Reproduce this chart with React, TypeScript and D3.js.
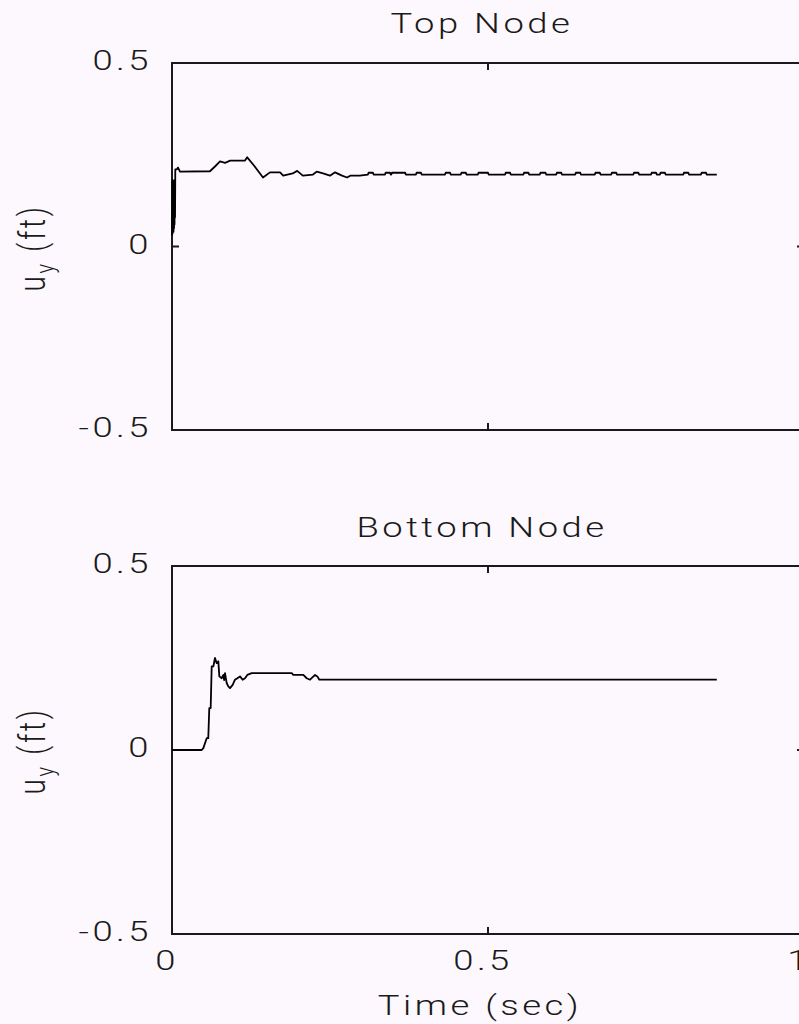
import React from "react";
import * as d3 from "d3";

// Vertical displacement histories (time in seconds, u_y in feet)
const topTime = [
  0, 0.0004, 0.0008, 0.0012, 0.0016, 0.002, 0.0024, 0.0028, 0.0032, 0.0036, 0.004,
  0.0044, 0.0048, 0.0052, 0.0075, 0.0095, 0.0127,
  0.06, 0.068, 0.076, 0.084, 0.092, 0.1155, 0.119, 0.13, 0.144, 0.155, 0.171, 0.176,
  0.191, 0.198, 0.207, 0.223, 0.229, 0.239, 0.25, 0.258, 0.269, 0.277, 0.282, 0.297,
  0.31, 0.311, 0.318, 0.319,
  0.337, 0.338, 0.345, 0.346,
  0.347, 0.348, 0.369, 0.37,
  0.386, 0.387, 0.394, 0.395,
  0.432, 0.433, 0.44, 0.441,
  0.457, 0.458, 0.465, 0.466,
  0.484, 0.485, 0.5, 0.501,
  0.527, 0.528, 0.535, 0.536,
  0.556, 0.557, 0.564, 0.565,
  0.582, 0.583, 0.591, 0.592,
  0.608, 0.609, 0.616, 0.617,
  0.638, 0.639, 0.646, 0.647,
  0.669, 0.67, 0.677, 0.678,
  0.695, 0.696, 0.703, 0.704,
  0.73, 0.731, 0.738, 0.739,
  0.758, 0.759, 0.766, 0.767,
  0.772, 0.773, 0.78, 0.781,
  0.809, 0.81, 0.817, 0.818,
  0.837, 0.838, 0.845, 0.846,
  0.862,
];
const topDisp = [
  0.03, 0.18, 0.035, 0.175, 0.04, 0.18, 0.04, 0.175, 0.05, 0.18, 0.06,
  0.175, 0.08, 0.21, 0.21, 0.215, 0.204,
  0.205, 0.218, 0.232, 0.228, 0.234, 0.234, 0.243, 0.22, 0.188, 0.202, 0.202, 0.193,
  0.199, 0.206, 0.193, 0.196, 0.204, 0.199, 0.193, 0.202, 0.193, 0.188, 0.193, 0.193,
  0.196, 0.201, 0.201, 0.196,
  0.196, 0.201, 0.201, 0.196,
  0.196, 0.201, 0.201, 0.196,
  0.196, 0.201, 0.201, 0.196,
  0.196, 0.201, 0.201, 0.196,
  0.196, 0.201, 0.201, 0.196,
  0.196, 0.201, 0.201, 0.196,
  0.196, 0.201, 0.201, 0.196,
  0.196, 0.201, 0.201, 0.196,
  0.196, 0.201, 0.201, 0.196,
  0.196, 0.201, 0.201, 0.196,
  0.196, 0.201, 0.201, 0.196,
  0.196, 0.201, 0.201, 0.196,
  0.196, 0.201, 0.201, 0.196,
  0.196, 0.201, 0.201, 0.196,
  0.196, 0.201, 0.201, 0.196,
  0.196, 0.201, 0.201, 0.196,
  0.196, 0.201, 0.201, 0.196,
  0.196, 0.201, 0.201, 0.196,
  0.196,
];

const bottomTime = [
  0, 0.047, 0.0496, 0.0549, 0.0574, 0.059, 0.0612, 0.0628, 0.0654, 0.068, 0.0707,
  0.0733, 0.0749, 0.0786, 0.0812, 0.0825, 0.0839, 0.0865, 0.0891, 0.0918, 0.096, 0.0997,
  0.1034, 0.1076, 0.1118, 0.1155, 0.1192, 0.1261, 0.134, 0.1894, 0.192, 0.2078,
  0.2131, 0.2184, 0.2226, 0.2263, 0.23, 0.2331, 0.862,
];
const bottomDisp = [
  0, 0, 0.005, 0.032, 0.032, 0.114, 0.114, 0.227, 0.227, 0.25, 0.236,
  0.241, 0.2, 0.195, 0.204, 0.19, 0.209, 0.182, 0.173, 0.168, 0.177, 0.191,
  0.195, 0.2, 0.191, 0.195, 0.204, 0.209, 0.209, 0.209, 0.204, 0.204,
  0.195, 0.191, 0.198, 0.204, 0.2, 0.191, 0.191,
];

const xTicks = [0, 0.5, 1];
const xTickLabels = ["0", "0.5", "1"];
const yTicks = [-0.5, 0, 0.5];
const yTickLabels = ["-0.5", "0", "0.5"];
const panelTitles = ["Top Node", "Bottom Node"];
const xAxisTitle = "Time (sec)";

const W = 799;
const H = 1024;
const FONT = "Roboto, 'Liberation Sans', Arial, sans-serif";
const INK = "#1a1a1a";
const SX = 1.3; // horizontal stretch of the lettering
const LS = 2.7;

const x = d3.scaleLinear().domain([0, 1]).range([172, 804]);

const panels = [
  { title: panelTitles[0], y: d3.scaleLinear().domain([-0.5, 0.5]).range([430, 63]), t: topTime, u: topDisp, titleY: 33, labelCy: 248 },
  { title: panelTitles[1], y: d3.scaleLinear().domain([-0.5, 0.5]).range([934, 566]), t: bottomTime, u: bottomDisp, titleY: 537, labelCy: 751 },
];

function Txt({ x, y, anchor = "middle", children, size = 28, rotate = 0 }: any) {
  return (
    <text
      transform={`translate(${x},${y}) scale(${SX},1)${rotate ? ` rotate(${rotate})` : ""}`}
      textAnchor={anchor}
      fontFamily={FONT}
      fontWeight={300}
      fontSize={size}
      letterSpacing={LS}
      fill={INK}
    >
      {children}
    </text>
  );
}

export default function App() {
  const tickLen = 7;
  return (
    <svg width={W} height={H} style={{ position: "absolute", left: 0, top: 0, background: "#fdf8fd" }}>
      <rect width={W} height={H} fill="#fdf8fd" />
      {panels.map((p, i) => {
        const [y0, y1] = p.y.range();
        const x0 = x(0);
        const x1 = x(1);
        const line = d3
          .line<number>()
          .x((_, k) => x(p.t[k]))
          .y((d) => p.y(d));
        return (
          <g key={i}>
            {/* frame */}
            <path
              d={`M${x0},${y1}H${x1}V${y0}H${x0}Z`}
              fill="none"
              stroke={INK}
              strokeWidth={2}
            />
            {/* inward ticks */}
            {xTicks.slice(1, 2).map((v) => (
              <g key={v}>
                <line x1={x(v)} x2={x(v)} y1={y1} y2={y1 + tickLen} stroke={INK} strokeWidth={2} />
                <line x1={x(v)} x2={x(v)} y1={y0} y2={y0 - tickLen} stroke={INK} strokeWidth={2} />
              </g>
            ))}
            {yTicks.slice(1, 2).map((v) => (
              <g key={v}>
                <line x1={x0} x2={x0 + tickLen} y1={p.y(v)} y2={p.y(v)} stroke={INK} strokeWidth={2} />
                <line x1={x1} x2={x1 - tickLen} y1={p.y(v)} y2={p.y(v)} stroke={INK} strokeWidth={2} />
              </g>
            ))}
            {yTicks.map((v, k) => (
              <Txt key={v} x={152} y={p.y(v) + 7} anchor="end">
                {yTickLabels[k]}
              </Txt>
            ))}
            <Txt x={482} y={p.titleY}>{p.title}</Txt>
            <Txt x={45} y={p.labelCy} rotate={-90}>
              <tspan>u</tspan>
              <tspan dy={7} fontSize={20}>y</tspan>
              <tspan dy={-7}> (ft)</tspan>
            </Txt>
            <path d={line(p.u) || ""} fill="none" stroke="#000" strokeWidth={1.8} strokeLinejoin="round" />
            {i === 1 &&
              xTicks.map((v, k) => (
                <Txt key={v} x={x(v) - 5} y={970}>
                  {xTickLabels[k]}
                </Txt>
              ))}
          </g>
        );
      })}
      <Txt x={480} y={1015}>{xAxisTitle}</Txt>
    </svg>
  );
}
